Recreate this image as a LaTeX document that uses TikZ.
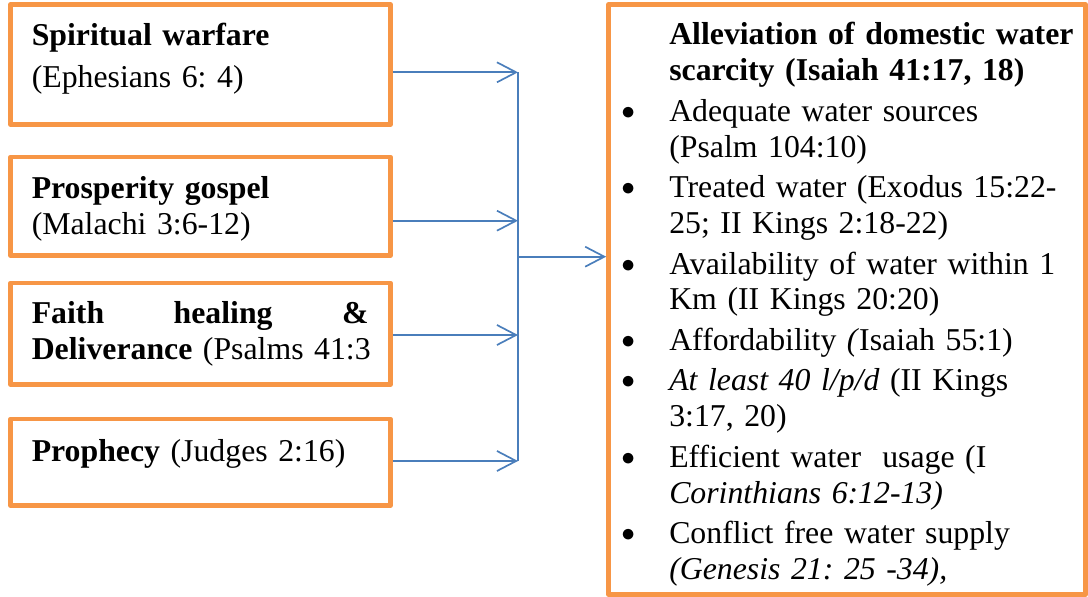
\documentclass[tikz,border=0pt]{standalone}
\usepackage{fontspec}
\setmainfont{Liberation Serif}
\usepackage{graphicx}
\usetikzlibrary{arrows.meta}
\definecolor{boxorange}{RGB}{247,150,70}
\definecolor{linkblue}{RGB}{74,126,187}
\frenchspacing
\newcommand{\bul}{\leavevmode\llap{\makebox[1.2cm][l]{\raisebox{0.05cm}{\scalebox{0.94}{\fontsize{20.74pt}{20pt}\selectfont$\bullet$}}}}}

\begin{document}
\begin{tikzpicture}[x=0.025cm,y=-0.025cm,
    blockbox/.style={draw=boxorange,line width=3.2pt,line join=round,inner sep=0pt,minimum width=9.5cm},
    blocktext/.style={anchor=base west,inner sep=0pt,text width=8.42cm,align=left,font=\fontsize{22.6pt}{25.5pt}\selectfont},
    listtext/.style={anchor=base west,inner sep=0pt,text width=11.5cm,align=left,font=\fontsize{22.6pt}{25.5pt}\selectfont},
    link/.style={draw=linkblue,line width=1.2pt,-{Straight Barb[length=4.8mm,width=5mm]}},
    busline/.style={draw=linkblue,line width=1pt}]
      \useasboundingbox (0,0) rectangle (1088,597);

      \node[blockbox,minimum height=3cm] (spirit) at (200.5,64.5) {};
      \node[blockbox,minimum height=2.46cm] (prosper) at (200.5,206.25) {};
      \node[blockbox,minimum height=2.54cm] (faith) at (200.5,333.75) {};
      \node[blockbox,minimum height=2.16cm] (prophecy) at (200.5,462.25) {};
      \node[blockbox,minimum width=11.925cm,minimum height=14.745cm] (goal) at (847,299.6) {};

      \node[blocktext] (spiritText) at (31.5,45.7) {\textbf{Spiritual warfare}\\[0.15cm](Ephesians 6: 4)};
      \node[blocktext] (prosperText) at (31.5,198.3) {\textbf{Prosperity gospel}\\(Malachi 3:6-12)};
      \node[blocktext] (faithText) at (31.5,323.3) {\textbf{Faith}\hfill\textbf{healing}\hfill\textbf{\&}\\\mbox{\textbf{Deliverance} (Psalms 41:3}};
      \node[blocktext] (prophecyText) at (31.5,461.7) {\textbf{Prophecy} (Judges 2:16)};

      \node[listtext] (goalText) at (621,45) {\setlength{\leftskip}{1.2cm}\setlength{\parskip}{3.3pt}%
        \textbf{Alleviation of domestic water}\newline
        \textbf{scarcity (Isaiah 41:17, 18)}\par
        \bul Adequate water sources\newline
        (Psalm 104:10)\par
        \bul Treated water (Exodus 15:22-\newline
        25; II Kings 2:18-22)\par
        \bul Availability of water within 1\newline
        Km (II Kings 20:20)\par
        \bul Affordability \textit{(}Isaiah 55:1)\par
        \bul \textit{At least 40 l/p/d} (II Kings\newline
        3:17, 20)\par
        \bul Efficient water~~usage (I\newline
        \textit{Corinthians 6:12-13)}\par
        \bul Conflict free water supply\newline
        \textit{(Genesis 21: 25 -34),}\par};

      \coordinate (busA) at (518,72.3);
      \coordinate (busB) at (518,220.7);
      \coordinate (busC) at (518,335);
      \coordinate (busD) at (518,461);
      \coordinate (join) at (518,256.7);

      \draw[busline] (busA) -- (busD);  % collecting line
      \draw[link] (spirit.east |- busA) -- (busA);
      \draw[link] (prosper.east |- busB) -- (busB);
      \draw[link] (faith.east |- busC) -- (busC);
      \draw[link] (prophecy.east |- busD) -- (busD);
      \draw[link] (join) -- (goal.west |- join);  % into the outcome box
\end{tikzpicture}
\end{document}
